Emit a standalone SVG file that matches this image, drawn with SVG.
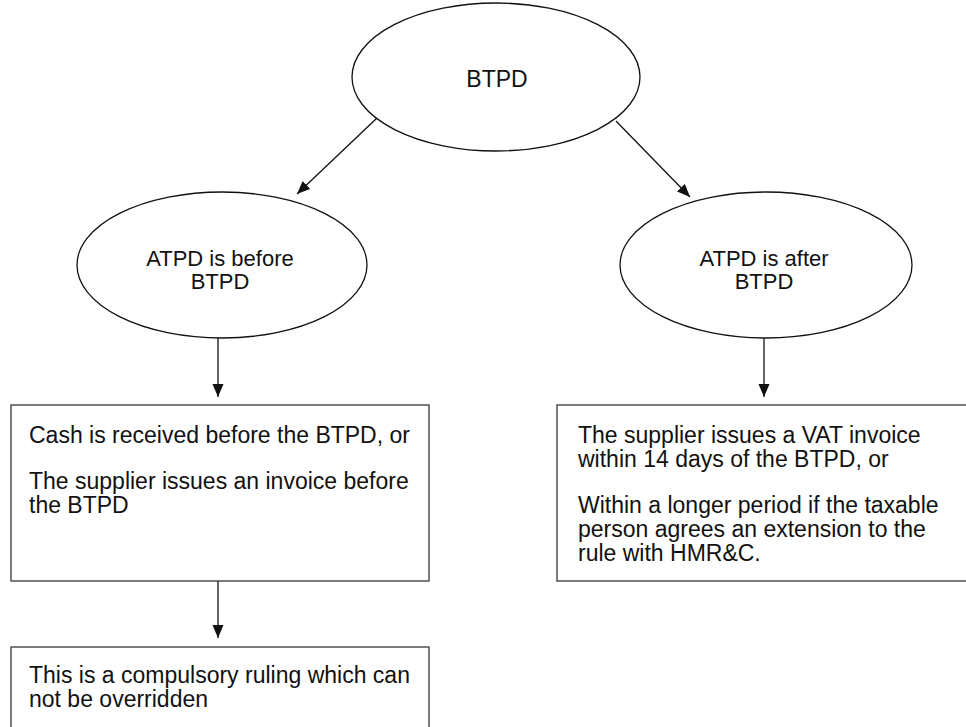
<svg xmlns="http://www.w3.org/2000/svg" width="966" height="727" viewBox="0 0 966 727">
<style>
.shape{fill:#fff;stroke:#111;stroke-width:1.3}
.box{fill:#fff;stroke:#444;stroke-width:1.4}
.t{font-family:"Liberation Sans",Arial,sans-serif;font-size:23px;fill:#111}
.e{font-size:22px}
.c{text-anchor:middle}
.conn{stroke:#111;stroke-width:1.3;fill:none;marker-end:url(#arr)}
</style>
<defs>
<marker id="arr" markerUnits="userSpaceOnUse" markerWidth="14" markerHeight="12" refX="13" refY="5.5" orient="auto">
<path d="M0,0 L13,5.5 L0,11 Z" fill="#111"/>
</marker>
</defs>
<rect width="966" height="727" fill="#fff"/>
<g id="connectors">
<line class="conn" x1="377" y1="118" x2="297" y2="194"/>
<line class="conn" x1="616" y1="121" x2="690" y2="197"/>
<line class="conn" x1="218" y1="338" x2="218" y2="397"/>
<line class="conn" x1="764" y1="338" x2="764" y2="397"/>
<line class="conn" x1="218" y1="581" x2="218" y2="638"/>
</g>
<g id="btpd">
<ellipse class="shape" cx="496" cy="77" rx="144" ry="74"/>
<text class="t c" x="497" y="87">BTPD</text>
</g>
<g id="before">
<ellipse class="shape" cx="222" cy="265" rx="145" ry="73"/>
<text class="t e c" x="220" y="266">ATPD is before</text>
<text class="t e c" x="220" y="289">BTPD</text>
</g>
<g id="after">
<ellipse class="shape" cx="766" cy="265" rx="146" ry="73"/>
<text class="t e c" x="764" y="266">ATPD is after</text>
<text class="t e c" x="764" y="289">BTPD</text>
</g>
<g id="before-box">
<rect class="box" x="11" y="405" width="418" height="176"/>
<text class="t" x="29" y="443">Cash is received before the BTPD, or</text>
<text class="t" x="29" y="489">The supplier issues an invoice before</text>
<text class="t" x="29" y="513">the BTPD</text>
</g>
<g id="after-box">
<rect class="box" x="557" y="405" width="420" height="176"/>
<text class="t" x="578" y="443">The supplier issues a VAT invoice</text>
<text class="t" x="578" y="467">within 14 days of the BTPD, or</text>
<text class="t" x="578" y="513">Within a longer period if the taxable</text>
<text class="t" x="578" y="537">person agrees an extension to the</text>
<text class="t" x="578" y="561">rule with HMR&amp;C.</text>
</g>
<g id="ruling-box">
<rect class="box" x="11" y="647" width="418" height="100"/>
<text class="t" x="29" y="683">This is a compulsory ruling which can</text>
<text class="t" x="29" y="707">not be overridden</text>
</g>
</svg>
